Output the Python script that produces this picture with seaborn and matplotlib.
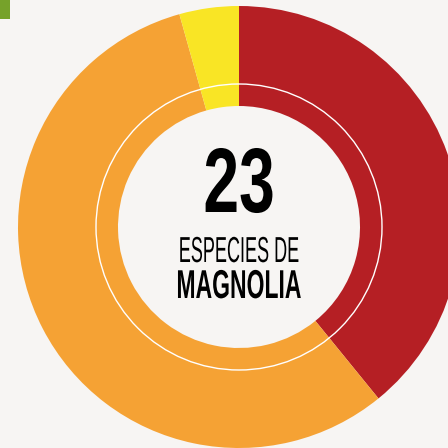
import matplotlib
matplotlib.use("Agg")
import matplotlib.pyplot as plt
import matplotlib.patheffects as pe
from matplotlib.patches import Circle, Rectangle
from matplotlib.transforms import Affine2D
import seaborn as sns

# data: species count per group (23 in total)
groups = ["grupo A", "grupo B", "grupo C"]
species = [9, 13, 1]
colors = ["#b51f24", "#f5a234", "#f9e525"]
total_label = "23"
line1 = "ESPECIES DE"
line2 = "MAGNOLIA"

bg = "#f7f5f3"

sns.set_theme(style="white", rc={"figure.facecolor": bg, "axes.facecolor": bg})
plt.rcParams['font.family'] = ['Liberation Sans', 'DejaVu Sans']


class Squeeze(pe.AbstractPathEffect):
    # squash glyphs horizontally around x = cx (display pixels), fakes a condensed face
    def __init__(self, sx, cx):
        super().__init__()
        self.sx = sx
        self.cx = cx

    def draw_path(self, renderer, gc, tpath, affine, rgbFace=None):
        t = affine + Affine2D().translate(-self.cx, 0).scale(self.sx, 1).translate(self.cx, 0)
        renderer.draw_path(gc, tpath, t, rgbFace)


fig = plt.figure(figsize=(4.48, 4.48), dpi=100)
ax = fig.add_axes([0, 0, 1, 1])

cx, cy = 239, 448 - 227
r_out, r_in = 221, 121

palette = sns.color_palette(colors)
ax.pie(species, colors=palette, startangle=90, counterclock=False,
       center=(cx, cy), radius=r_out,
       wedgeprops={"width": r_out - r_in, "linewidth": 0})

# thin white ring inside the donut
ax.add_patch(Circle((cx, cy), 143, fill=False, edgecolor="white", linewidth=1.0, zorder=3))

# small green tab in the corner
ax.add_patch(Rectangle((0, 448 - 19), 10, 19, color="#76a22a", linewidth=0, zorder=4))

ax.text(cx, 448 - 212, total_label, ha="center", va="baseline", fontsize=66,
        fontweight="bold", color="black", path_effects=[Squeeze(0.70, cx)])
ax.text(cx, 448 - 262, line1, ha="center", va="baseline", fontsize=26,
        fontweight="normal", color="black", path_effects=[Squeeze(0.50, cx)])
ax.text(cx, 448 - 298, line2, ha="center", va="baseline", fontsize=29,
        fontweight="bold", color="black", path_effects=[Squeeze(0.57, cx)])

ax.set_xlim(0, 448)
ax.set_ylim(0, 448)
ax.set_aspect("equal")
ax.axis("off")

fig.savefig("out.png", dpi=100, facecolor=bg)
